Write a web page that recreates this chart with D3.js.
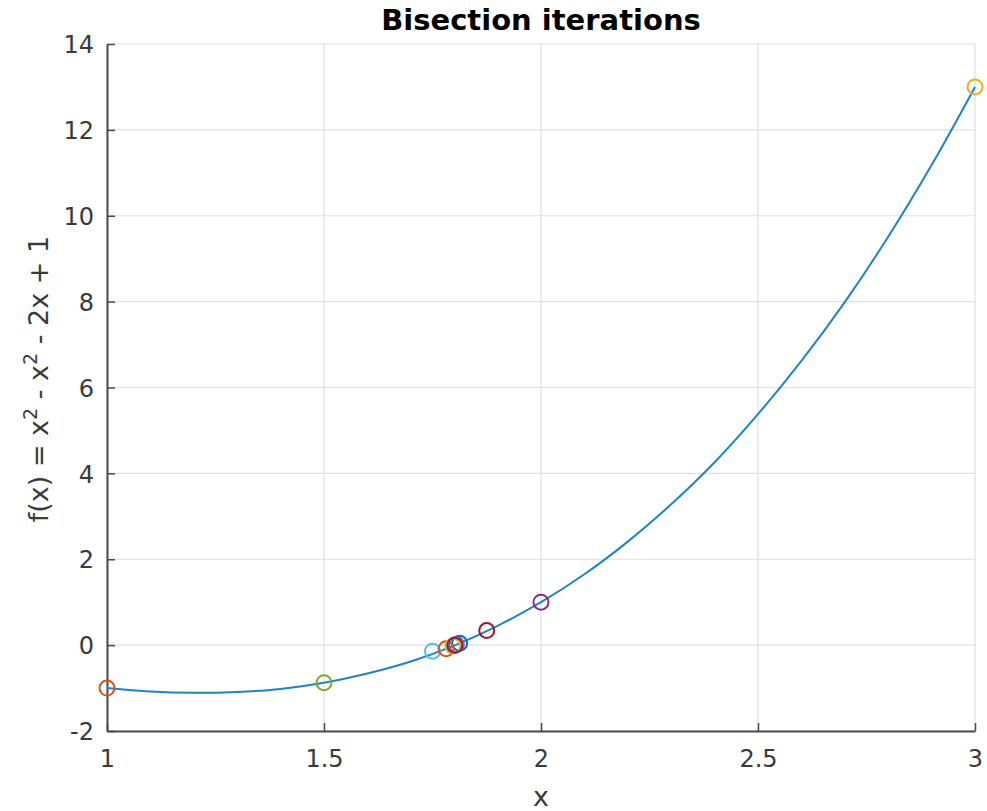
<!DOCTYPE html>
<html>
<head>
<meta charset="utf-8">
<script src="https://cdn.jsdelivr.net/npm/d3@7"></script>
<style>
  body { margin: 0; background: #fff; }
  text { font-family: "DejaVu Sans", sans-serif; }
</style>
</head>
<body>
<svg id="chart"></svg>
<script>
// curve samples
const curveX = [1, 1.1, 1.2, 1.3, 1.4, 1.5, 1.6, 1.7, 1.8, 1.9, 2, 2.1, 2.2, 2.3, 2.4, 2.5, 2.6, 2.7, 2.8, 2.9, 3];
const curveY = [-1, -1.08, -1.11, -1.09, -1.02, -0.875, -0.66, -0.38, -0.01, 0.45, 1, 1.65, 2.41, 3.28, 4.26, 5.38, 6.62, 7.99, 9.51, 11.18, 13];

// bisection points, in plotting order
const iterX = [1, 3, 2, 1.5, 1.75, 1.875, 1.8125, 1.78125, 1.796875, 1.8046875, 1.80078, 1.80273, 1.80176];
const iterY = [-1, 13, 1, -0.875, -0.14, 0.34, 0.044, -0.084, -0.021, 0.012, -0.005, 0.003, -0.001];

const xTicks = [1, 1.5, 2, 2.5, 3];
const yTicks = [-2, 0, 2, 4, 6, 8, 10, 12, 14];

// matlab default colour order
const colorOrder = ["#0072BD", "#D95319", "#EDB120", "#7E2F8E", "#77AC30", "#4DBEEE", "#A2142F"];

const width = 987, height = 811;
const margin = {top: 44, right: 12, bottom: 80, left: 107};

const svg = d3.select("#chart").attr("width", width).attr("height", height);

const x = d3.scaleLinear().domain([1, 3]).range([margin.left, width - margin.right]);
const y = d3.scaleLinear().domain([-2, 14]).range([height - margin.bottom, margin.top]);

// grid
const grid = svg.append("g").attr("stroke", "#e0e0e0").attr("stroke-width", 1.2);
grid.selectAll(".gx").data(xTicks).enter().append("line")
    .attr("x1", d => x(d)).attr("x2", d => x(d))
    .attr("y1", y(-2)).attr("y2", y(14));
grid.selectAll(".gy").data(yTicks).enter().append("line")
    .attr("x1", x(1)).attr("x2", x(3))
    .attr("y1", d => y(d)).attr("y2", d => y(d));

// axes (ticks inward)
const fmt = d => String(d);
const xAxis = svg.append("g")
    .attr("transform", `translate(0,${y(-2)})`)
    .call(d3.axisBottom(x).tickValues(xTicks).tickSizeInner(-8).tickSizeOuter(0).tickPadding(19).tickFormat(fmt));
const yAxis = svg.append("g")
    .attr("transform", `translate(${x(1)},0)`)
    .call(d3.axisLeft(y).tickValues(yTicks).tickSizeInner(-8).tickSizeOuter(0).tickPadding(13).tickFormat(fmt));

[xAxis, yAxis].forEach(g => {
    g.select(".domain").attr("stroke", "#4a4a4a").attr("stroke-width", 2);
    g.selectAll(".tick line").attr("stroke", "#4a4a4a").attr("stroke-width", 1.5);
    g.selectAll(".tick text").attr("fill", "#3a3a3a").attr("font-size", 24)
        .attr("font-family", "DejaVu Sans, sans-serif");
});
yAxis.selectAll(".tick text").attr("dy", "0.36em");

// curve
const pts = curveX.map((d, i) => [d, curveY[i]]);
svg.append("path")
    .datum(pts)
    .attr("fill", "none")
    .attr("stroke", "#1f83c8")
    .attr("stroke-width", 2)
    .attr("d", d3.line().x(d => x(d[0])).y(d => y(d[1])).curve(d3.curveCatmullRom));

// bisection markers
svg.append("g").selectAll("circle")
    .data(iterX.map((d, i) => ({x: d, y: iterY[i], i: i})))
    .enter().append("circle")
    .attr("cx", d => x(d.x))
    .attr("cy", d => y(d.y))
    .attr("r", 7.5)
    .attr("fill", "none")
    .attr("stroke-width", 2)
    .attr("stroke", d => colorOrder[(d.i + 1) % colorOrder.length]);

// title and labels
svg.append("text")
    .attr("x", (x(1) + x(3)) / 2).attr("y", 30)
    .attr("text-anchor", "middle")
    .attr("font-size", 29).attr("font-weight", "bold").attr("fill", "#000")
    .text("Bisection iterations");

svg.append("text")
    .attr("x", (x(1) + x(3)) / 2).attr("y", 806)
    .attr("text-anchor", "middle")
    .attr("font-size", 27).attr("fill", "#3a3a3a")
    .text("x");

const yl = svg.append("text")
    .attr("transform", `translate(48,379) rotate(-90)`)
    .attr("text-anchor", "middle")
    .attr("font-size", 27).attr("fill", "#3a3a3a");
yl.append("tspan").text("f(x) = x");
yl.append("tspan").attr("dy", -11).attr("font-size", 19).text("2");
yl.append("tspan").attr("dy", 11).text(" - x");
yl.append("tspan").attr("dy", -11).attr("font-size", 19).text("2");
yl.append("tspan").attr("dy", 11).text(" - 2x + 1");
</script>
</body>
</html>
